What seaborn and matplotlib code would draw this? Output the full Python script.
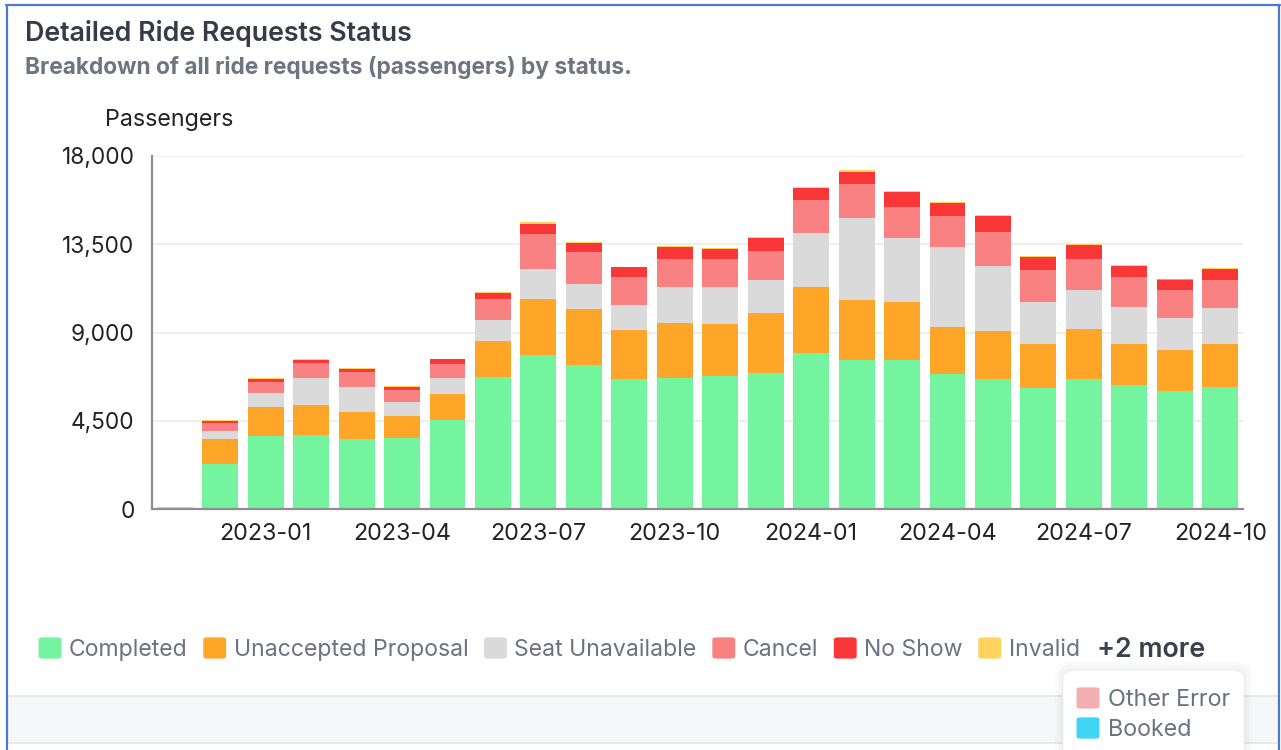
import numpy as np
import pandas as pd
import matplotlib
matplotlib.use("Agg")
import matplotlib.pyplot as plt
import seaborn as sns
from matplotlib.patches import FancyBboxPatch, Rectangle
from matplotlib.lines import Line2D

# ---------------- data ----------------
months = ["2022-11", "2022-12", "2023-01", "2023-02", "2023-03", "2023-04",
          "2023-05", "2023-06", "2023-07", "2023-08", "2023-09", "2023-10",
          "2023-11", "2023-12", "2024-01", "2024-02", "2024-03", "2024-04",
          "2024-05", "2024-06", "2024-07", "2024-08", "2024-09", "2024-10"]
statuses = ["Completed", "Unaccepted Proposal", "Seat Unavailable", "Cancel",
            "No Show", "Invalid", "Other Error", "Booked"]
completed = [0, 2310, 3750, 3790, 3580, 3630, 4570, 6740, 7860, 7350, 6660, 6670,
             6790, 6940, 7950, 7610, 7610, 6880, 6640, 6180, 6660, 6320, 6030, 6250]
unaccepted = [70, 1270, 1480, 1540, 1390, 1100, 1310, 1830, 2850, 2840, 2480, 2840,
              2670, 3040, 3400, 3050, 2950, 2410, 2460, 2240, 2530, 2090, 2090, 2170]
seat_unavailable = [0, 425, 710, 1360, 1260, 750, 815, 1070, 1550, 1310, 1260, 1800,
                    1880, 1680, 2750, 4190, 3260, 4090, 3310, 2120, 2000, 1890, 1610, 1830]
cancel = [0, 410, 560, 750, 750, 610, 730, 1050, 1780, 1630, 1430, 1440,
          1390, 1510, 1660, 1720, 1600, 1560, 1720, 1650, 1550, 1540, 1460, 1410]
no_show = [0, 85, 135, 170, 170, 150, 220, 340, 480, 420, 490, 630,
           530, 660, 630, 630, 760, 650, 820, 650, 710, 560, 490, 560]
invalid = [25, 30, 50, 50, 50, 35, 35, 50, 120, 50, 35, 50,
           35, 50, 50, 85, 50, 70, 50, 50, 50, 50, 0, 60]
other_error = [0] * 24
booked = [0, 0, 0, 0, 0, 0, 0, 0, 0, 0, 0, 0,
          0, 0, 0, 0, 0, 0, 0, 0, 0, 0, 60, 0]
tick_months = ["2023-01", "2023-04", "2023-07", "2023-10", "2024-01", "2024-04",
               "2024-07", "2024-10"]
y_ticks = [0, 4500, 9000, 13500, 18000]

colors = {"Completed": "#74F49F", "Unaccepted Proposal": "#FFA528",
          "Seat Unavailable": "#DADADA", "Cancel": "#F98181",
          "No Show": "#F93638", "Invalid": "#FFD35E",
          "Other Error": "#F4AEB1", "Booked": "#40D4F5"}

series = [completed, unaccepted, seat_unavailable, cancel, no_show, invalid,
          other_error, booked]
rows = []
for st, vals in zip(statuses, series):
    for i, v in enumerate(vals):
        rows.append({"idx": i, "month": months[i], "status": st, "value": v})
df = pd.DataFrame(rows)

# ---------------- figure ----------------
W, H = 1281, 750
sns.set_theme(style="white")
plt.rcParams["font.family"] = ["Inter", "DejaVu Sans"]

fig = plt.figure(figsize=(W / 100, H / 100), dpi=100)
fig.patch.set_facecolor("white")

def fx(x):
    return x / W

def fy(y):
    return 1 - y / H

ax_left, ax_right, ax_top, ax_bottom = 152, 1243, 156, 509.3
ax = fig.add_axes([fx(ax_left), fy(ax_bottom), fx(ax_right - ax_left),
                   (ax_bottom - ax_top) / H])

sns.histplot(data=df, x="idx", weights="value", hue="status",
             hue_order=statuses[::-1], multiple="stack", discrete=True,
             shrink=0.79, palette=colors, alpha=1, linewidth=0,
             legend=False, ax=ax)

ax.set_xlim(-0.5, len(months) - 0.5)
ax.set_ylim(0, 18000)
ax.set_yticks(y_ticks)
ax.set_yticklabels([f"{v:,}" for v in y_ticks])
ax.set_xticks([months.index(m) for m in tick_months])
ax.set_xticklabels(tick_months)
ax.set_xlabel("")
ax.set_ylabel("")
ax.grid(axis="y", color="#EDEDED", linewidth=1.3)
ax.set_axisbelow(True)
for s in ["top", "right"]:
    ax.spines[s].set_visible(False)
for s in ["left", "bottom"]:
    ax.spines[s].set_color("#8E8E8E")
    ax.spines[s].set_linewidth(1.6)
ax.tick_params(axis="y", length=7.5, width=1.2, color="#8E8E8E", pad=5,
               labelsize=16.3, labelcolor="#222222")
ax.tick_params(axis="x", length=0, pad=10, labelsize=16.8, labelcolor="#222222")

# ---------------- texts ----------------
fig.text(fx(25), fy(41), "Detailed Ride Requests Status", fontsize=19.3,
         fontweight="semibold", color="#363B45", va="baseline", ha="left")
fig.text(fx(25), fy(74), "Breakdown of all ride requests (passengers) by status.",
         fontsize=16.4, fontweight="bold", color="#6E7480", va="baseline", ha="left")
fig.text(fx(105), fy(126), "Passengers", fontsize=16.8, color="#222222",
         va="baseline", ha="left")

# ---------------- frame / bands ----------------
blue = "#4C78D4"
fig.add_artist(Rectangle((fx(8), fy(743)), fx(1270), (743 - 696) / H,
                         transform=fig.transFigure, facecolor="#F6F7F9",
                         edgecolor="none", zorder=0))
for yy in (696, 743):
    fig.add_artist(Line2D([fx(8), fx(1278)], [fy(yy), fy(yy)],
                          transform=fig.transFigure, color="#E3E5E9", lw=1.2))
fig.add_artist(Line2D([fx(6.5), fx(6.5)], [fy(5), 0], transform=fig.transFigure,
                      color=blue, lw=1.6))
fig.add_artist(Line2D([fx(1279), fx(1279)], [fy(5), 0], transform=fig.transFigure,
                      color=blue, lw=1.6))
fig.add_artist(Line2D([fx(6), fx(1279.5)], [fy(5), fy(5)], transform=fig.transFigure,
                      color=blue, lw=1.6))

# ---------------- legend ----------------
fig.canvas.draw()
renderer = fig.canvas.get_renderer()
x = 39
sq = 22
legend_visible = statuses[:6]
for st in legend_visible:
    fig.add_artist(FancyBboxPatch((fx(x + 1.5), fy(659 - 1.5)), fx(sq - 3), (sq - 3) / H,
                                  boxstyle="round,pad=0.0015,rounding_size=0.003",
                                  transform=fig.transFigure, facecolor=colors[st],
                                  edgecolor="none"))
    t = fig.text(fx(x + sq + 8), fy(656), st, fontsize=16.6, color="#6B7280",
                 va="baseline", ha="left")
    bb = t.get_window_extent(renderer=renderer)
    x = x + sq + 8 + bb.width + 16
fig.text(fx(x + 1), fy(657), "+2 more", fontsize=19.3, fontweight="semibold",
         color="#3A404C", va="baseline", ha="left")

# popup with the remaining legend entries
for k, a in enumerate([0.025, 0.02, 0.015]):
    grow = 2 + 3 * k
    fig.add_artist(FancyBboxPatch((fx(1063 - grow), fy(760 + grow)),
                                  fx(181 + 2 * grow), (90 + 2 * grow) / H,
                                  boxstyle="round,pad=0,rounding_size=0.012",
                                  transform=fig.transFigure, facecolor="black",
                                  alpha=a, edgecolor="none", zorder=4))
fig.add_artist(FancyBboxPatch((fx(1063), fy(760)), fx(181), 90 / H,
                              boxstyle="round,pad=0,rounding_size=0.012",
                              transform=fig.transFigure, facecolor="white",
                              edgecolor="#F0F1F3", lw=0.8, zorder=5))
for st, ytop, ybase in [("Other Error", 687, 706), ("Booked", 717, 736)]:
    fig.add_artist(FancyBboxPatch((fx(1077 + 1.5), fy(ytop + sq - 1.5)), fx(sq - 3),
                                  (sq - 3) / H,
                                  boxstyle="round,pad=0.0015,rounding_size=0.003",
                                  transform=fig.transFigure, facecolor=colors[st],
                                  edgecolor="none", zorder=6))
    fig.text(fx(1108), fy(ybase), st, fontsize=16.8, color="#6B7280",
             va="baseline", ha="left", zorder=6)

fig.savefig("out.png", dpi=100)
